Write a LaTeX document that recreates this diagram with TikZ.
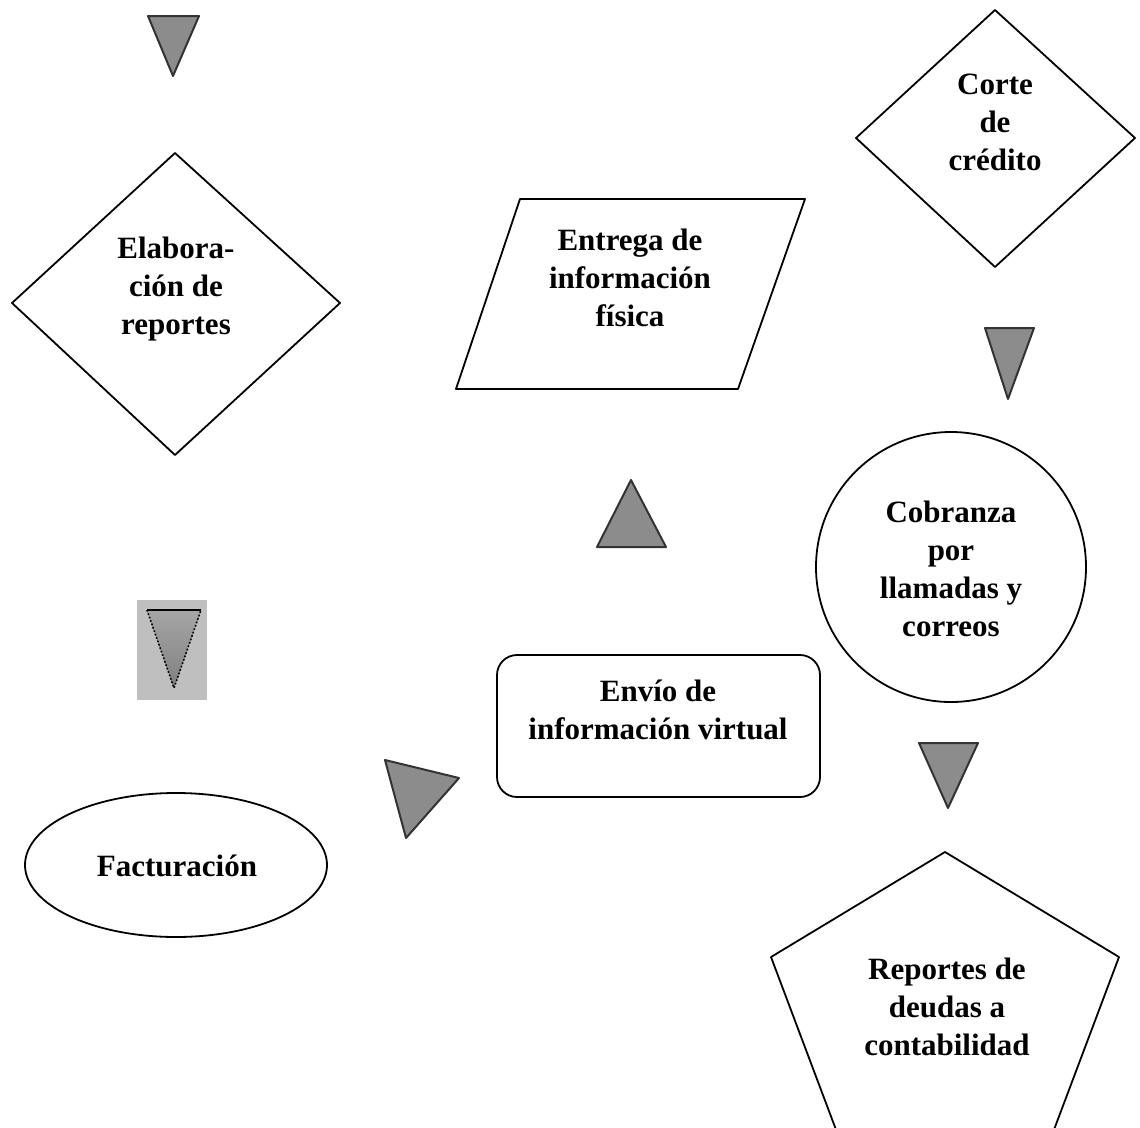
\documentclass[tikz,border=0pt]{standalone}
\usepackage{fontspec}
\setmainfont{Liberation Serif}
\begin{document}
\begin{tikzpicture}[x=1pt,y=-1pt,
  shapeline/.style={draw=black,line width=1.8pt,line join=round},
  tri/.style={draw=black!80,line width=2pt,fill=black!45,line join=round},
  lbl/.style={align=center,font=\fontsize{31}{38}\selectfont\bfseries,inner sep=0pt}]
\useasboundingbox[fill=white] (0,0) rectangle (1140,1127);
% triangles
\draw[tri] (148,16) -- (199,16) -- (173,76) -- cycle;
\draw[tri] (985,328) -- (1034,328) -- (1008,399) -- cycle;
\draw[tri] (919,743) -- (978,743) -- (948,808) -- cycle;
\draw[tri] (597,547) -- (666,547) -- (631,480) -- cycle;
\draw[tri] (385,760) -- (459,778) -- (406,838) -- cycle;
% dotted triangle
\fill[black!25] (137,600) rectangle (207,700);
\fill[top color=black!35,bottom color=black!50] (147,610) -- (201,610) -- (174,688) -- cycle;
\draw[line width=1.8pt] (147,610) -- (201,610);
\draw[line width=1.6pt,dotted] (147,610) -- (174,688) -- (201,610);
% shapes
\draw[shapeline] (175,153) -- (340,303) -- (175,455) -- (12,303) -- cycle;
\draw[shapeline] (520,199) -- (805,199) -- (738,389) -- (456,389) -- cycle;
\draw[shapeline] (995,10) -- (1135,138) -- (995,267) -- (856,138) -- cycle;
\draw[shapeline] (951,567) circle (135);
\draw[shapeline,rounded corners=20pt] (497,655) rectangle (820,797);
\draw[shapeline] (176,865) ellipse (151 and 72);
\draw[shapeline] (945,852) -- (1119,957) -- (1052,1135) -- (838,1135) -- (771,957) -- cycle;
% labels
\node[lbl] (elab) at (176,289) {Elabora-\\ción de\\reportes};
\node[lbl] (entrega) at (630,278) {Entrega de\\información\\física};
\node[lbl] (corte) at (995,122) {Corte\\de\\crédito};
\node[lbl] (cobranza) at (951,569) {Cobranza\\por\\llamadas y\\correos};
\node[lbl] (envio) at (658,710) {Envío de\\información virtual};
\node[lbl] (fact) at (177,866) {Facturación};
\node[lbl] (rep) at (947,1007) {Reportes de\\deudas a\\contabilidad};
\end{tikzpicture}
\end{document}
